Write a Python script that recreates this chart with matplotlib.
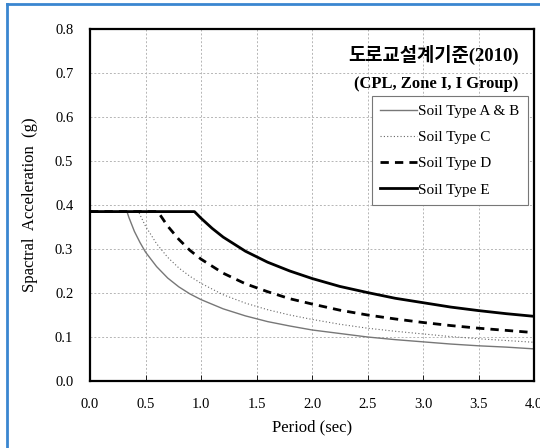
import matplotlib.pyplot as plt

plt.rcParams['font.family'] = ['Liberation Serif', 'Noto Sans CJK KR']

# spectral acceleration (g)
period_ab = [0.0, 0.333, 0.35, 0.4, 0.45, 0.5, 0.6, 0.7, 0.8, 0.9, 1.0, 1.2, 1.4, 1.6, 1.8, 2.0,
             2.25, 2.5, 2.75, 3.0, 3.25, 3.5, 3.75, 4.0]
sa_ab = [0.385, 0.385, 0.372, 0.340, 0.315, 0.293, 0.260, 0.234, 0.214, 0.198, 0.185, 0.164,
         0.148, 0.135, 0.125, 0.116, 0.108, 0.100, 0.094, 0.089, 0.084, 0.080, 0.077, 0.073]

period_c = [0.0, 0.437, 0.45, 0.5, 0.6, 0.7, 0.8, 0.9, 1.0, 1.2, 1.4, 1.6, 1.8, 2.0,
            2.25, 2.5, 2.75, 3.0, 3.25, 3.5, 3.75, 4.0]
sa_c = [0.385, 0.385, 0.378, 0.352, 0.312, 0.281, 0.257, 0.238, 0.222, 0.196, 0.177, 0.162,
        0.150, 0.140, 0.129, 0.120, 0.113, 0.107, 0.101, 0.096, 0.092, 0.088]

period_d = [0.0, 0.611, 0.7, 0.8, 0.9, 1.0, 1.2, 1.4, 1.6, 1.8, 2.0,
            2.25, 2.5, 2.75, 3.0, 3.25, 3.5, 3.75, 4.0]
sa_d = [0.385, 0.385, 0.352, 0.322, 0.297, 0.277, 0.245, 0.221, 0.203, 0.187, 0.175,
        0.161, 0.150, 0.141, 0.133, 0.126, 0.120, 0.115, 0.110]

period_e = [0.0, 0.941, 1.0, 1.1, 1.2, 1.4, 1.6, 1.8, 2.0,
            2.25, 2.5, 2.75, 3.0, 3.25, 3.5, 3.75, 4.0]
sa_e = [0.385, 0.385, 0.370, 0.347, 0.327, 0.295, 0.270, 0.250, 0.233,
        0.215, 0.201, 0.188, 0.178, 0.168, 0.160, 0.153, 0.147]

labels = ['Soil Type A & B', 'Soil Type C', 'Soil Type D', 'Soil Type E']
xticks = [0.0, 0.5, 1.0, 1.5, 2.0, 2.5, 3.0, 3.5, 4.0]
yticks = [0.0, 0.1, 0.2, 0.3, 0.4, 0.5, 0.6, 0.7, 0.8]

fig = plt.figure(figsize=(5.4, 4.48), dpi=100)
ax = fig.add_axes([90/540, 1-381/448, 444/540, 352/448])

ax.plot(period_ab, sa_ab, color='#777777', lw=1.0, label=labels[0])
ax.plot(period_c, sa_c, color='#666666', lw=0.8, ls=(0, (1, 2)), label=labels[1])
ax.plot(period_d, sa_d, color='black', lw=2.0, ls=(0, (3, 2.2)), label=labels[2])
ax.plot(period_e, sa_e, color='black', lw=2.0, label=labels[3])

ax.set_xlim(0, 4)
ax.set_ylim(0, 0.8)
ax.set_xticks(xticks)
ax.set_yticks(yticks)
ax.set_xticklabels([f'{v:.1f}' for v in xticks])
ax.set_yticklabels([f'{v:.1f}' for v in yticks])
ax.tick_params(axis='x', direction='in', length=4, width=0.6, pad=12, labelsize=10.5)
ax.tick_params(axis='y', length=0, pad=12, labelsize=10.5)
ax.grid(True, color='#b5b5b5', ls=(0, (2, 2)), lw=0.7)
for s in ax.spines.values():
    s.set_linewidth(1.6)

ax.set_xlabel('Period (sec)', fontsize=12, labelpad=6)
ax.set_ylabel('Spactral  Acceleration  (g)', fontsize=12, labelpad=12)

ax.text(0.965, 0.925, '도로교설계기준(2010)', transform=ax.transAxes, ha='right', va='center',
        fontsize=13.5, fontweight='bold')
ax.text(0.965, 0.845, '(CPL, Zone I, I Group)', transform=ax.transAxes, ha='right', va='center',
        fontsize=12, fontweight='bold')

leg = ax.legend(loc='upper right', bbox_to_anchor=(0.986, 0.81), borderaxespad=0, fontsize=11,
                handlelength=2.4, handletextpad=0.1, labelspacing=0.82,
                borderpad=0.55, fancybox=False, framealpha=1)
leg.get_frame().set_edgecolor('#777777')
leg.get_frame().set_linewidth(0.8)

# light blue frame of the original figure (top and left edges visible)
fig.add_artist(plt.Line2D([7/540, 1], [1-4/448, 1-4/448], transform=fig.transFigure,
                          color='#3a86d0', lw=2))
fig.add_artist(plt.Line2D([7/540, 7/540], [0, 1-4/448], transform=fig.transFigure,
                          color='#3a86d0', lw=2))

fig.savefig('out.png', dpi=100)
